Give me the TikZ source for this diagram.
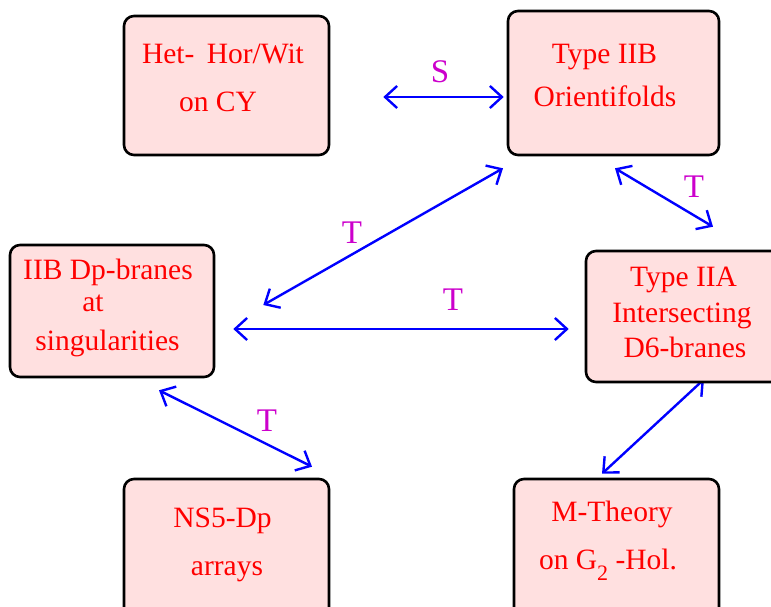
\documentclass[tikz,border=0pt]{standalone}
\usepackage{fontspec}
\setmainfont{Liberation Serif}
\usetikzlibrary{arrows.meta,calc}
\definecolor{boxfill}{RGB}{255,224,224}
\definecolor{txtred}{RGB}{255,0,0}
\definecolor{lblmag}{RGB}{204,0,204}
\definecolor{arrblue}{RGB}{0,0,255}
\pgfdeclarelayer{bg}
\pgfsetlayers{bg,main}
\begin{document}
\begin{tikzpicture}[x=1pt,y=-1pt,
  box/.style={draw=black,line width=2.6pt,fill=boxfill,rounded corners=10pt,inner sep=0pt,rectangle},
  txt/.style={anchor=base,text=txtred,font=\fontsize{29.5}{34}\selectfont,inner sep=0pt},
  lbl/.style={anchor=base,text=lblmag,font=\fontsize{33}{38}\selectfont,inner sep=0pt},
  conn/.style={draw=arrblue,line width=2.4pt,{Straight Barb[length=12pt,width=22pt]}-{Straight Barb[length=12pt,width=22pt]}}]
\useasboundingbox (0,0) rectangle (771,607);
\clip (0,0) rectangle (771,607);
% boxes
\node[box,minimum width=205pt,minimum height=139pt] (het) at (226.5,85.5) {};
\node[box,minimum width=211pt,minimum height=144pt] (iib) at (613.5,83) {};
\node[box,minimum width=204pt,minimum height=132pt] (dp)  at (112,311) {};
\node[box,minimum width=214pt,minimum height=131pt] (iia) at (693,316.5) {};
\node[box,minimum width=205pt,minimum height=141pt] (ns5) at (226.5,549.5) {};
\node[box,minimum width=205pt,minimum height=141pt] (mth) at (616.5,549.5) {};
% box texts
\node[txt] (het1) at (223,64) {Het-\, Hor/Wit};
\node[txt] (het2) at (218,112) {on CY};
\node[txt] (iib1) at (604.5,64) {Type IIB};
\node[txt] (iib2) at (605,107) {Orientifolds};
\node[txt] (dp1) at (108,279) {IIB Dp-branes};
\node[txt] (dp2) at (93,311) {at};
\node[txt] (dp3) at (107.5,350) {singularities};
\node[txt] (iia1) at (683.5,286.5) {Type IIA};
\node[txt] (iia2) at (682,322) {Intersecting};
\node[txt] (iia3) at (685,357.5) {D6-branes};
\node[txt] (ns51) at (222.5,527.5) {NS5-Dp};
\node[txt] (ns52) at (227,575) {arrays};
\node[txt] (mth1) at (612,521.5) {M-Theory};
\node[txt] (mth2) at (608,569) {on G\raisebox{-11pt}{\fontsize{22}{24}\selectfont 2} -Hol.};
% labels
\node[lbl] (lS) at (440,83) {S};
\node[lbl] (lT1) at (352,243) {T};
\node[lbl] (lT2) at (453,310) {T};
\node[lbl] (lT3) at (694,197) {T};
\node[lbl] (lT4) at (267,431) {T};
% connectors
\begin{pgfonlayer}{bg}
\draw[conn] ($(het.east)+(53,11.5)$) -- ($(iib.west)+(-3,14)$);
\draw[conn] ($(iib.south)+(-110.5,12)$) -- ($(dp.east)+(48,-6)$);
\draw[conn] ($(dp.east)+(18,18)$) -- ($(iia.west)+(-16,12.5)$);
\draw[conn] ($(iib.south)+(1.5,12)$) -- ($(iia.north)+(20,-23)$);
\draw[conn] ($(dp.south)+(47,12)$) -- ($(ns5.north)+(85.5,-11)$);
\draw[conn] ($(iia.south)+(11,-4)$) -- ($(mth.north)+(-14.5,-4)$);
\end{pgfonlayer}
\end{tikzpicture}
\end{document}
